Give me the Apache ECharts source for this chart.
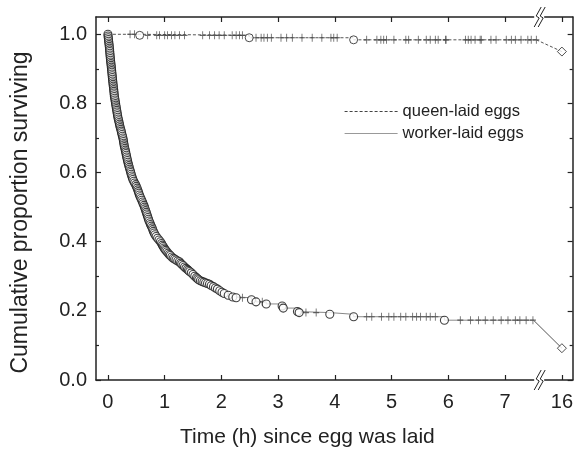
<!DOCTYPE html>
<html>
<head>
<meta charset="utf-8">
<script src="https://cdn.jsdelivr.net/npm/echarts@6/dist/echarts.min.js"></script>
<style>
  html, body { margin: 0; padding: 0; background: #fff; }
  #chart { width: 576px; height: 453px; }
</style>
</head>
<body>
<div id="chart"></div>
<script>
// x position 8 stands for 16 h (axis is broken between 7.6 and 16)
const xTicks = [0, 1, 2, 3, 4, 5, 6, 7, 8];
const yTicks = [0, 0.2, 0.4, 0.6, 0.8, 1.0];
const yMinorTicks = [0.1, 0.3, 0.5, 0.7, 0.9];

// queen-laid eggs: deaths (circles), censored (+), last point at 16 h
const queenEvents = [[0, 1.0], [0.56, 0.997], [2.49, 0.99], [4.33, 0.984]];
const queenEnd = [[7.55, 0.984], [8, 0.95]];
const queenCensorX = [0.39, 0.47, 0.70, 0.86, 0.91, 1.0, 1.05, 1.12, 1.18, 1.26, 1.35,
  1.67, 1.79, 1.88, 1.96, 2.05, 2.19, 2.26, 2.32, 2.37,
  2.61, 2.70, 2.75, 2.81, 2.88, 3.05, 3.15, 3.25, 3.42, 3.60, 3.77, 3.93, 3.98, 4.04,
  4.56, 4.74, 4.81, 4.86, 4.91, 5.04, 5.25, 5.30, 5.47, 5.61, 5.68, 5.77, 5.82, 5.95, 5.96,
  6.30, 6.35, 6.40, 6.47, 6.56, 6.58, 6.75, 6.84, 7.02, 7.11, 7.18, 7.28, 7.40, 7.46, 7.55];

// worker-laid eggs: deaths (circles)
const workerEvents = [
  [0.000, 1.000], [0.003, 0.995], [0.006, 0.990], [0.010, 0.985], [0.013, 0.980], [0.017, 0.975],
  [0.020, 0.970], [0.024, 0.965], [0.027, 0.960], [0.030, 0.955], [0.032, 0.950], [0.035, 0.945],
  [0.037, 0.940], [0.040, 0.935], [0.043, 0.930], [0.046, 0.925], [0.050, 0.920], [0.053, 0.915],
  [0.057, 0.910], [0.060, 0.905], [0.063, 0.900], [0.066, 0.895], [0.069, 0.890], [0.072, 0.885],
  [0.075, 0.880], [0.078, 0.875], [0.081, 0.870], [0.085, 0.865], [0.088, 0.860], [0.091, 0.855],
  [0.095, 0.850], [0.099, 0.845], [0.102, 0.840], [0.105, 0.835], [0.108, 0.830], [0.111, 0.825],
  [0.114, 0.820], [0.120, 0.815], [0.125, 0.810], [0.130, 0.805], [0.135, 0.800], [0.140, 0.795],
  [0.145, 0.790], [0.150, 0.785], [0.155, 0.780], [0.160, 0.775], [0.165, 0.770], [0.170, 0.765],
  [0.176, 0.760], [0.182, 0.755], [0.190, 0.750], [0.197, 0.745], [0.204, 0.740], [0.210, 0.735],
  [0.218, 0.730], [0.226, 0.725], [0.234, 0.720], [0.240, 0.715], [0.248, 0.710], [0.256, 0.705],
  [0.264, 0.700], [0.270, 0.695], [0.275, 0.690], [0.280, 0.685], [0.285, 0.680], [0.291, 0.675],
  [0.298, 0.670], [0.305, 0.665], [0.312, 0.660], [0.318, 0.655], [0.325, 0.650], [0.331, 0.645],
  [0.338, 0.640], [0.345, 0.635], [0.352, 0.630], [0.360, 0.625], [0.368, 0.620], [0.377, 0.615],
  [0.385, 0.610], [0.394, 0.605], [0.402, 0.600], [0.410, 0.595], [0.420, 0.590], [0.430, 0.585],
  [0.440, 0.580], [0.455, 0.575], [0.470, 0.570], [0.490, 0.565], [0.500, 0.560], [0.515, 0.555],
  [0.525, 0.550], [0.535, 0.545], [0.545, 0.540], [0.555, 0.535], [0.568, 0.530], [0.582, 0.525],
  [0.595, 0.520], [0.610, 0.515], [0.620, 0.510], [0.635, 0.505], [0.645, 0.500], [0.655, 0.495],
  [0.665, 0.490], [0.675, 0.485], [0.685, 0.480], [0.695, 0.475], [0.705, 0.470], [0.715, 0.465],
  [0.725, 0.460], [0.740, 0.455], [0.750, 0.450], [0.765, 0.445], [0.780, 0.440], [0.790, 0.435],
  [0.800, 0.430], [0.815, 0.425], [0.830, 0.420], [0.850, 0.415], [0.875, 0.410], [0.900, 0.405],
  [0.925, 0.400], [0.945, 0.395], [0.960, 0.390], [0.975, 0.386], [0.990, 0.382], [1.005, 0.378],
  [1.020, 0.375], [1.040, 0.371], [1.060, 0.367], [1.080, 0.363], [1.100, 0.360], [1.125, 0.356],
  [1.150, 0.352], [1.175, 0.350], [1.200, 0.347], [1.230, 0.344], [1.260, 0.342], [1.280, 0.338],
  [1.300, 0.335], [1.325, 0.331], [1.350, 0.327], [1.375, 0.323], [1.400, 0.320], [1.420, 0.317],
  [1.440, 0.314], [1.470, 0.310], [1.500, 0.305], [1.530, 0.300], [1.560, 0.296], [1.580, 0.293],
  [1.600, 0.290], [1.630, 0.287], [1.660, 0.285], [1.690, 0.283], [1.720, 0.281], [1.755, 0.279],
  [1.790, 0.277], [1.820, 0.273], [1.860, 0.270], [1.895, 0.266], [1.930, 0.263], [1.970, 0.258],
  [2.010, 0.254], [2.050, 0.250], [2.120, 0.245], [2.200, 0.240], [2.260, 0.238], [2.530, 0.232],
  [2.610, 0.226], [2.790, 0.220], [3.070, 0.214], [3.090, 0.208], [3.340, 0.198], [3.370, 0.195],
  [3.910, 0.190], [4.330, 0.183], [5.930, 0.173]
];
const workerEnd = [[7.50, 0.173], [8, 0.092]];
const workerCensor = [[2.37, 0.238], [2.72, 0.226], [3.49, 0.195], [3.67, 0.195],
  [4.56, 0.183], [4.65, 0.183], [4.82, 0.183], [4.95, 0.183], [5.04, 0.183], [5.16, 0.183],
  [5.25, 0.183], [5.37, 0.183], [5.44, 0.183], [5.51, 0.183], [5.61, 0.183], [5.68, 0.183],
  [5.77, 0.183], [6.21, 0.173], [6.39, 0.173], [6.53, 0.173], [6.65, 0.173], [6.79, 0.173],
  [6.93, 0.173], [7.05, 0.173], [7.18, 0.173], [7.26, 0.173], [7.37, 0.173], [7.49, 0.173]];

const FONT = "'Liberation Sans', Arial, sans-serif";
const INK = '#222';
const PLUS = 'path://M5,0V10M0,5H10';

// step lines also need the last censored time at the final level
const queenStep = queenEvents.concat([queenEnd[0]]);
const workerStep = workerEvents.concat([workerEnd[0]]);
const queenCensor = queenCensorX.map(function (x) {
  let y = 1.0;
  queenEvents.forEach(function (e) { if (e[0] <= x) y = e[1]; });
  return [x, y];
});

const chart = echarts.init(document.getElementById('chart'), null, { renderer: 'canvas' });

function xAxisDef(pos, labels) {
  return {
    type: 'value', position: pos, min: -0.21, max: 8.19,
    splitLine: { show: false },
    axisLine: { show: true, onZero: false, lineStyle: { color: INK, width: 1.5 } },
    axisTick: { show: true, inside: true, length: 5, customValues: xTicks, lineStyle: { color: INK, width: 1.2 } },
    axisLabel: {
      show: labels, customValues: xTicks, margin: 12, fontSize: 20, color: INK, fontFamily: FONT,
      formatter: function (v) { return v === 8 ? '16' : String(v); }
    },
    name: labels ? 'Time (h) since egg was laid' : '',
    nameLocation: 'middle', nameGap: 47,
    nameTextStyle: { fontSize: 21, color: INK, fontFamily: FONT, padding: [0, 54, 0, 0] }
  };
}
function yAxisDef(pos, ticks, len, line, labels) {
  return {
    type: 'value', position: pos, min: 0, max: 1.05,
    splitLine: { show: false },
    axisLine: { show: line, onZero: false, lineStyle: { color: INK, width: 1.5 } },
    axisTick: { show: true, inside: true, length: len, customValues: ticks, lineStyle: { color: INK, width: 1.2 } },
    axisLabel: {
      show: labels, customValues: ticks, margin: 9, fontSize: 20, color: INK, fontFamily: FONT,
      formatter: function (v) { return v.toFixed(1); }
    },
    name: labels ? 'Cumulative proportion surviving' : '',
    nameLocation: 'middle', nameGap: 64,
    nameTextStyle: { fontSize: 23, color: INK, fontFamily: FONT, padding: [0, 28, 0, 0] }
  };
}

chart.setOption({
  animation: false,
  backgroundColor: '#fff',
  grid: { left: 96, right: 2, top: 17, bottom: 70 },
  xAxis: [xAxisDef('bottom', true), xAxisDef('top', false)],
  yAxis: [
    yAxisDef('left', yTicks, 5, true, true),
    yAxisDef('left', yMinorTicks, 3, false, false),
    yAxisDef('right', yTicks, 5, true, false),
    yAxisDef('right', yMinorTicks, 3, false, false)
  ],
  legend: {
    orient: 'vertical', left: 339, top: 98, itemWidth: 53, itemHeight: 14, itemGap: 5,
    itemStyle: { opacity: 0 },
    textStyle: { fontSize: 16.5, color: INK, fontFamily: FONT },
    data: [
      { name: 'queen-laid eggs', lineStyle: { color: '#444', width: 1, type: [3, 2] } },
      { name: 'worker-laid eggs', lineStyle: { color: '#999', width: 1.2 } }
    ]
  },
  series: [
    {
      name: 'queen-laid eggs', type: 'line', step: 'end', data: queenStep,
      symbol: 'none', lineStyle: { color: '#555', width: 1, type: [3, 2] }, z: 2
    },
    {
      name: 'queen end', type: 'line', data: queenEnd, symbol: 'none',
      lineStyle: { color: '#555', width: 1, type: [3, 2] }, z: 2
    },
    {
      name: 'worker-laid eggs', type: 'line', step: 'end', data: workerStep,
      symbol: 'none', lineStyle: { color: '#888', width: 1 }, z: 2
    },
    {
      name: 'worker end', type: 'line', data: workerEnd, symbol: 'none',
      lineStyle: { color: '#555', width: 1 }, z: 2
    },
    {
      name: 'queen censored', type: 'scatter', data: queenCensor, symbol: PLUS, symbolSize: [6, 8],
      itemStyle: { color: 'none', borderColor: '#444', borderWidth: 1 }, z: 3
    },
    {
      name: 'worker censored', type: 'scatter', data: workerCensor, symbol: PLUS, symbolSize: [6, 8],
      itemStyle: { color: 'none', borderColor: '#444', borderWidth: 1 }, z: 3
    },
    {
      name: 'queen deaths', type: 'scatter', data: queenEvents.slice(1), symbol: 'circle', symbolSize: 8,
      itemStyle: { color: '#fff', borderColor: INK, borderWidth: 1 }, z: 4
    },
    {
      name: 'worker deaths', type: 'scatter', data: workerEvents, symbol: 'circle', symbolSize: 8,
      itemStyle: { color: '#fff', borderColor: '#111', borderWidth: 1.1 }, z: 4
    },
    {
      name: 'ends', type: 'scatter', data: [queenEnd[1], workerEnd[1]], symbol: 'diamond', symbolSize: 9,
      itemStyle: { color: '#fff', borderColor: INK, borderWidth: 1 }, z: 4
    }
  ]
});

// axis-break marks on the bottom and top frame
const bx = chart.convertToPixel({ xAxisIndex: 0 }, 7.6);
const yb = chart.convertToPixel({ yAxisIndex: 0 }, 0);
const yt = chart.convertToPixel({ yAxisIndex: 0 }, 1.05);
function breakMark(y) {
  const zig = function (dx) {
    return {
      type: 'polyline', z: 100,
      shape: { points: [[bx + dx + 4, y - 10], [bx + dx - 1, y - 1], [bx + dx + 2, y + 1], [bx + dx - 3, y + 10]] },
      style: { stroke: INK, fill: null, lineWidth: 1 }
    };
  };
  return [
    { type: 'rect', z: 99, shape: { x: bx - 5, y: y - 3, width: 10, height: 6 }, style: { fill: '#fff' } },
    zig(-2), zig(2)
  ];
}
chart.setOption({ graphic: breakMark(yb).concat(breakMark(yt)) });
</script>
</body>
</html>
